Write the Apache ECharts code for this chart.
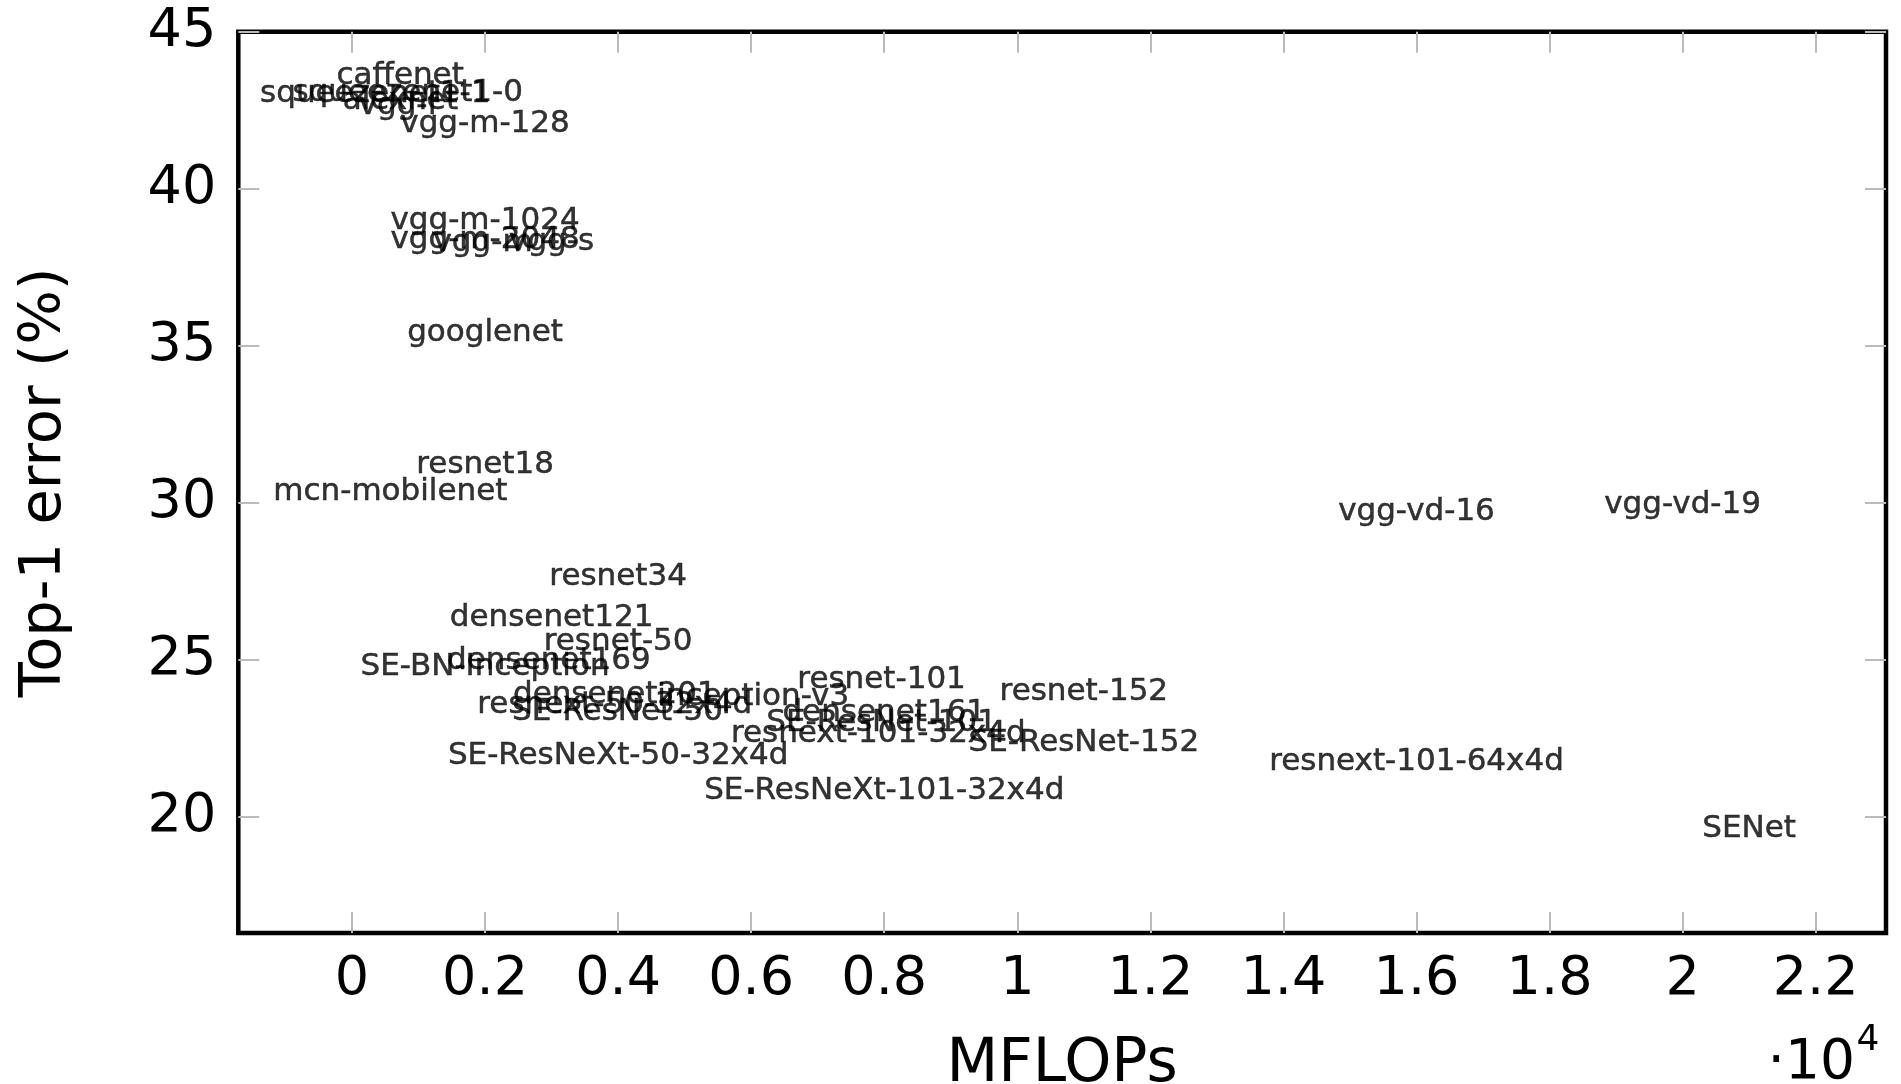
<!DOCTYPE html>
<html>
<head>
<meta charset="utf-8">
<script src="https://cdn.jsdelivr.net/npm/echarts@6/dist/echarts.min.js"></script>
<style>
  html, body { margin: 0; padding: 0; background: #fff; }
  #chart { width: 1901px; height: 1084px; }
</style>
</head>
<body>
<div id="chart"></div>
<script>
// ImageNet models: compute cost (MFLOPs) against top-1 error (%)
const models = [
  'caffenet', 'squeezenet1-0', 'squeezenet1-1', 'alexnet', 'vgg-f',
  'vgg-m-128', 'vgg-m-1024', 'vgg-m-2048', 'vgg-m', 'vgg-s',
  'googlenet', 'resnet18', 'mcn-mobilenet', 'vgg-vd-16', 'vgg-vd-19',
  'resnet34', 'densenet121', 'resnet-50', 'densenet169', 'SE-BN-Inception',
  'densenet201', 'inception-v3', 'resnext-50-32x4d', 'SE-ResNet-50', 'SE-ResNeXt-50-32x4d',
  'resnet-101', 'resnet-152', 'densenet161', 'SE-ResNet-101', 'resnext-101-32x4d',
  'SE-ResNet-152', 'SE-ResNeXt-101-32x4d', 'resnext-101-64x4d', 'SENet'
];
const mflops = [
  724, 837, 350, 727, 700,
  2000, 2000, 2000, 1970, 3000,
  2000, 2000, 577, 16000, 20000,
  4000, 3000, 4000, 2960, 2000,
  3950, 6030, 3950, 3990, 4000,
  7960, 11000, 8000, 7960, 7910,
  11000, 8000, 16000, 21000
];
const top1Error = [
  42.55, 42.00, 41.98, 41.75, 41.60,
  41.00, 37.93, 37.33, 37.22, 37.25,
  34.36, 30.16, 29.31, 28.65, 28.88,
  26.60, 25.29, 24.52, 23.90, 23.71,
  22.83, 22.76, 22.51, 22.28, 20.90,
  23.32, 22.91, 22.25, 21.94, 21.59,
  21.30, 19.77, 20.69, 18.57
];

const xTickValues = [0, 2000, 4000, 6000, 8000, 10000, 12000, 14000, 16000, 18000, 20000, 22000];
const xTickLabels = ['0', '0.2', '0.4', '0.6', '0.8', '1', '1.2', '1.4', '1.6', '1.8', '2', '2.2'];
const yTickValues = [20, 25, 30, 35, 40, 45];
const xRange = [-1709, 23057];
const yRange = [16.3, 45];

const FONT = 'DejaVu Sans';
const tickStyle = { show: true, inside: true, length: 21, lineStyle: { color: '#bbbbbb', width: 2 } };
const hiddenLine = { show: false, onZero: false };

const chart = echarts.init(document.getElementById('chart'), null, { renderer: 'canvas' });

const pointData = models.map((m, i) => ({ name: m, value: [mflops[i], top1Error[i]] }));

chart.setOption({
  animation: false,
  backgroundColor: '#ffffff',
  grid: {
    left: 238.3, top: 31.8, right: 15, bottom: 151,
    show: true, borderColor: '#000000', borderWidth: 4.5,
    containLabel: false, outerBoundsMode: 'none'
  },
  xAxis: [
    {
      type: 'value', position: 'bottom', min: xRange[0], max: xRange[1],
      axisLine: hiddenLine,
      splitLine: { show: false },
      axisTick: Object.assign({ customValues: xTickValues }, tickStyle),
      axisLabel: {
        customValues: xTickValues,
        formatter: v => xTickLabels[xTickValues.indexOf(v)],
        fontSize: 54, fontFamily: FONT, color: '#000', margin: 20
      },
      name: 'MFLOPs', nameLocation: 'middle', nameGap: 102,
      nameTextStyle: { fontSize: 60, fontFamily: FONT, color: '#000' }
    },
    {
      type: 'value', position: 'top', min: xRange[0], max: xRange[1],
      axisLine: hiddenLine,
      splitLine: { show: false },
      axisTick: Object.assign({ customValues: xTickValues }, tickStyle),
      axisLabel: { show: false }
    }
  ],
  yAxis: [
    {
      type: 'value', position: 'left', min: yRange[0], max: yRange[1],
      axisLine: hiddenLine,
      splitLine: { show: false },
      axisTick: Object.assign({ customValues: yTickValues }, tickStyle),
      axisLabel: {
        customValues: yTickValues,
        fontSize: 54, fontFamily: FONT, color: '#000', margin: 22
      },
      name: 'Top-1 error (%)', nameLocation: 'middle', nameGap: 164, nameRotate: 90,
      nameTextStyle: { fontSize: 57.5, fontFamily: FONT, color: '#000' }
    },
    {
      type: 'value', position: 'right', min: yRange[0], max: yRange[1],
      axisLine: hiddenLine,
      splitLine: { show: false },
      axisTick: Object.assign({ customValues: yTickValues }, tickStyle),
      axisLabel: { show: false }
    }
  ],
  series: [{
    type: 'scatter',
    xAxisIndex: 0, yAxisIndex: 0,
    data: pointData,
    symbolSize: 0,
    silent: true,
    label: {
      show: true,
      formatter: '{b}',
      position: 'inside',
      offset: [0, -33],
      fontSize: 31, fontFamily: FONT, fontWeight: 'normal',
      color: '#000000', textBorderColor: '#000000', textBorderWidth: 0.5
    }
  }],
  graphic: [
    {
      type: 'text', x: 1855, y: 1064,
      style: { text: '\u00b710', font: '55px "DejaVu Sans"', fill: '#000',
               textAlign: 'right', textVerticalAlign: 'middle', align: 'right', verticalAlign: 'middle' }
    },
    {
      type: 'text', x: 1868, y: 1041,
      style: { text: '4', font: '36px "DejaVu Sans"', fill: '#000',
               textAlign: 'center', textVerticalAlign: 'middle', align: 'center', verticalAlign: 'middle' }
    }
  ]
});
</script>
</body>
</html>
